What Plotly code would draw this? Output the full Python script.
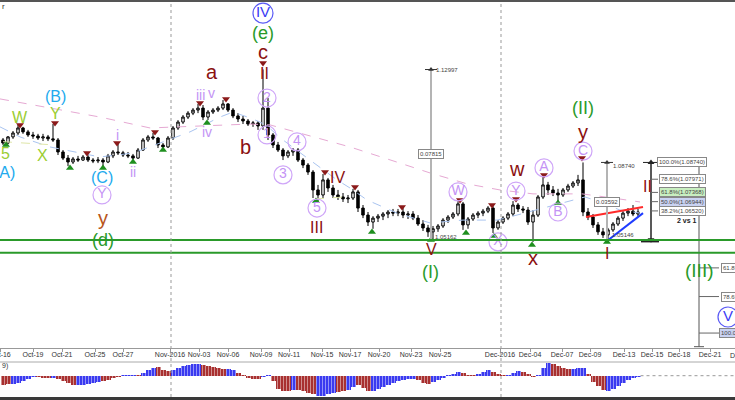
import plotly.graph_objects as go

FONT = "Liberation Sans, Arial, sans-serif"

# ---------------- price data (4-hour-ish bars, EUR/USD) ----------------
bars = list(range(128))
open_p = [
1.0977,1.0963,1.0991,1.1009,1.1032,1.1014,1.1000,1.0995,1.0986,1.0991,
1.0982,1.0977,1.0922,1.0894,1.0876,1.0890,1.0885,1.0899,1.0885,1.0881,
1.0885,1.0876,1.0904,1.0922,1.0918,1.0908,1.0904,1.0894,1.0931,1.0977,
1.0991,1.0986,1.0954,1.0945,1.0986,1.1032,1.1059,1.1082,1.1100,1.1114,
1.1123,1.1082,1.1105,1.1114,1.1123,1.1142,1.1114,1.1087,1.1073,1.1064,
1.1050,1.1055,1.1041,1.1123,1.1000,1.0954,1.0931,1.0904,1.0922,1.0931,
1.0885,1.0862,1.0830,1.0748,1.0725,1.0794,1.0757,1.0725,1.0716,1.0707,
1.0711,1.0739,1.0665,1.0633,1.0601,1.0619,1.0628,1.0638,1.0647,1.0642,
1.0647,1.0633,1.0638,1.0619,1.0592,1.0574,1.0556,1.0570,1.0583,1.0610,
1.0624,1.0638,1.0684,1.0588,1.0615,1.0633,1.0642,1.0651,1.0665,1.0574,
1.0601,1.0619,1.0638,1.0679,1.0661,1.0656,1.0601,1.0633,1.0716,1.0771,
1.0748,1.0734,1.0725,1.0748,1.0766,1.0780,1.0794,1.0647,1.0624,1.0588,
1.0556,1.0542,1.0565,1.0592,1.0619,1.0642,1.0651,1.0638]
high_p = [
1.0986,1.0995,1.1018,1.1046,1.1037,1.1023,1.1014,1.1005,1.1005,1.1000,
1.1050,1.0986,1.0931,1.0908,1.0899,1.0904,1.0908,1.0908,1.0894,1.0899,
1.0894,1.0913,1.0931,1.0963,1.0927,1.0922,1.0913,1.0940,1.0986,1.1000,
1.1009,1.0991,1.0963,1.0995,1.1041,1.1068,1.1091,1.1109,1.1123,1.1142,
1.1137,1.1114,1.1123,1.1132,1.1160,1.1146,1.1123,1.1100,1.1087,1.1073,
1.1064,1.1064,1.1300,1.1169,1.1009,1.0968,1.0940,1.0931,1.0940,1.0940,
1.0894,1.0871,1.0839,1.0771,1.0821,1.0803,1.0771,1.0748,1.0734,1.0725,
1.0753,1.0748,1.0679,1.0647,1.0628,1.0638,1.0647,1.0656,1.0661,1.0661,
1.0665,1.0651,1.0651,1.0633,1.0610,1.0588,1.0583,1.0592,1.0619,1.0633,
1.0647,1.0697,1.0693,1.0624,1.0642,1.0651,1.0661,1.0674,1.0674,1.0610,
1.0628,1.0647,1.0697,1.0688,1.0674,1.0670,1.0656,1.0725,1.0808,1.0785,
1.0766,1.0753,1.0757,1.0776,1.0789,1.0817,1.0874,1.0665,1.0638,1.0601,
1.0574,1.0574,1.0601,1.0628,1.0651,1.0665,1.0679,1.0661]
low_p = [
1.0954,1.0958,1.0982,1.1000,1.1005,1.0991,1.0982,1.0977,1.0972,1.0972,
1.0968,1.0908,1.0885,1.0857,1.0867,1.0876,1.0881,1.0876,1.0871,1.0871,
1.0857,1.0871,1.0894,1.0908,1.0899,1.0894,1.0881,1.0890,1.0927,1.0968,
1.0977,1.0940,1.0936,1.0940,1.0977,1.1023,1.1050,1.1073,1.1091,1.1100,
1.1068,1.1068,1.1096,1.1105,1.1114,1.1105,1.1077,1.1059,1.1050,1.1041,
1.1037,1.1023,1.1023,1.0977,1.0940,1.0922,1.0885,1.0894,1.0904,1.0876,
1.0848,1.0817,1.0711,1.0697,1.0711,1.0739,1.0711,1.0702,1.0693,1.0688,
1.0702,1.0647,1.0619,1.0583,1.0570,1.0601,1.0610,1.0619,1.0628,1.0628,
1.0619,1.0615,1.0610,1.0583,1.0560,1.0533,1.0516,1.0556,1.0574,1.0597,
1.0615,1.0628,1.0565,1.0570,1.0606,1.0619,1.0628,1.0642,1.0551,1.0565,
1.0592,1.0610,1.0628,1.0647,1.0642,1.0588,1.0510,1.0624,1.0707,1.0725,
1.0720,1.0697,1.0716,1.0739,1.0757,1.0766,1.0628,1.0610,1.0574,1.0542,
1.0528,1.0515,1.0556,1.0583,1.0606,1.0628,1.0628,1.0624]
close_p = [
1.0963,1.0991,1.1009,1.1032,1.1014,1.1000,1.0995,1.0986,1.0991,1.0982,
1.0977,1.0922,1.0894,1.0876,1.0890,1.0885,1.0899,1.0885,1.0881,1.0885,
1.0876,1.0904,1.0922,1.0918,1.0908,1.0904,1.0894,1.0931,1.0977,1.0991,
1.0986,1.0954,1.0945,1.0986,1.1032,1.1059,1.1082,1.1100,1.1114,1.1123,
1.1082,1.1105,1.1114,1.1123,1.1142,1.1114,1.1087,1.1073,1.1064,1.1050,
1.1055,1.1041,1.1123,1.1000,1.0954,1.0931,1.0904,1.0922,1.0931,1.0885,
1.0862,1.0830,1.0748,1.0725,1.0794,1.0757,1.0725,1.0716,1.0707,1.0711,
1.0739,1.0665,1.0633,1.0601,1.0619,1.0628,1.0638,1.0647,1.0642,1.0647,
1.0633,1.0638,1.0619,1.0592,1.0574,1.0556,1.0570,1.0583,1.0610,1.0624,
1.0638,1.0684,1.0588,1.0615,1.0633,1.0642,1.0651,1.0665,1.0574,1.0601,
1.0619,1.0638,1.0679,1.0661,1.0656,1.0601,1.0633,1.0716,1.0771,1.0748,
1.0734,1.0725,1.0748,1.0766,1.0780,1.0794,1.0647,1.0624,1.0588,1.0556,
1.0542,1.0565,1.0592,1.0619,1.0642,1.0651,1.0638,1.0647]

# ---------------- MACD histogram ----------------
macd_hist = [
-0.0009,-0.0008,-0.0008,-0.0007,-0.0005,-0.0003,-0.0001,-0.0001,-0.0002,-0.0002,
-0.0002,-0.0003,-0.0005,-0.0007,-0.0009,-0.0009,-0.0009,-0.0008,-0.0007,-0.0006,
-0.0005,-0.0004,-0.0002,-0.0001,0.0001,0.0001,0.0001,0.0001,0.0003,0.0006,
0.0008,0.0009,0.0006,0.0005,0.0006,0.0008,0.0010,0.0011,0.0012,0.0012,
0.0011,0.0010,0.0009,0.0008,0.0007,0.0007,0.0006,0.0003,0.0001,-0.0002,
-0.0003,-0.0003,-0.0001,0.0001,-0.0005,-0.0013,-0.0015,-0.0015,-0.0014,-0.0014,
-0.0015,-0.0017,-0.0018,-0.0020,-0.0020,-0.0018,-0.0017,-0.0016,-0.0015,-0.0014,
-0.0011,-0.0009,-0.0012,-0.0015,-0.0015,-0.0013,-0.0011,-0.0009,-0.0007,-0.0005,
-0.0004,-0.0003,-0.0003,-0.0004,-0.0007,-0.0008,-0.0006,-0.0004,-0.0002,0.00005,
0.0002,0.0004,0.0003,0.0001,0.00005,0.0002,0.0004,0.0006,0.0004,0.0002,
0.0001,0.0001,0.0003,0.0005,0.0004,0.0002,-0.0001,0.0001,0.0008,0.0013,
0.0012,0.0010,0.0008,0.0007,0.0007,0.0008,0.0008,0.0002,-0.0006,-0.0010,
-0.0014,-0.0015,-0.0013,-0.0010,-0.0007,-0.0004,-0.0002,-0.0001]
macd_phase = [
0,0,1,1,1,1,1,0,0,0,
1,0,0,0,0,1,1,1,1,1,
0,0,0,0,1,1,1,0,1,1,
1,0,0,0,1,1,1,1,1,1,
0,0,0,0,0,1,1,0,0,0,
0,0,1,1,0,0,0,0,1,0,
0,0,0,1,1,1,1,0,0,1,
1,0,0,0,1,1,1,1,1,1,
1,1,1,0,0,0,1,1,1,1,
1,1,0,0,0,1,1,1,0,0,
0,1,1,1,0,0,0,1,1,1,
0,0,0,0,1,1,1,0,0,0,
0,1,1,1,1,1,1,1]

# ---------------- moving averages ----------------
slow_ma_bar = [-0.6, 9.4, 19.4, 29.4, 39.4, 49.4, 53.4, 59.4, 69.4, 79.4, 85.4, 92.8, 99.4, 106, 115.8, 122, 127.4]
slow_ma_val = [1.1165, 1.1123, 1.1082, 1.1032, 1.1041, 1.1050, 1.1046, 1.1009, 1.0945, 1.0871, 1.0826, 1.0776, 1.0748, 1.0730, 1.0730, 1.0711, 1.0693]
fast_ma_bar = [-0.6, 3.4, 9.4, 19.4, 26, 32.8, 37.4, 43.4, 46, 49.4, 51.4, 52.8, 56, 61.4, 66.8, 69.4, 72.8,
               78.8, 85.4, 92, 98.8, 102.8, 108, 112.8, 116.4, 119.4, 123.4, 127.4]
fast_ma_val = [1.1037, 1.0991, 1.0945, 1.0899, 1.0917, 1.0977, 1.1014, 1.1082, 1.1105, 1.1078, 1.1059, 1.1041, 1.0977,
               1.0885, 1.0794, 1.0757, 1.0702, 1.0642, 1.0597, 1.0610, 1.0610, 1.0633, 1.0665, 1.0693, 1.0716, 1.0693,
               1.0656, 1.0642]

# faint channel lines
faint1_bar = [0.0, 10.4]; faint1_val = [1.0969, 1.0954]
faint2_bar = [62.4, 68.4]; faint2_val = [1.0707, 1.0716]

# ---------------- swing markers ----------------
swing_high_bar = [3.4, 10.4, 16.8, 22.8, 30.4, 39.4, 44.6, 52, 64.4, 70.4, 79.8, 91.4, 97.8, 102.6, 108.2, 115.8]
swing_high_val = [1.1046, 1.1055, 1.0917, 1.0963, 1.1014, 1.1146, 1.1165, 1.1329, 1.0830, 1.0762, 1.0670, 1.0702,
                  1.0679, 1.0707, 1.0817, 1.0894]
swing_low_bar = [0.6, 13.4, 20, 26, 32, 40.8, 62.6, 73.8, 85.6, 92.6, 98.2, 105.8, 111, 120.8]
swing_low_val = [1.0954, 1.0849, 1.0849, 1.0876, 1.0931, 1.1055, 1.0697, 1.0555, 1.0519, 1.0551, 1.0537, 1.0496,
                 1.0688, 1.0510]

# ---------------- trend lines / levels ----------------
resist_bar = [116.6, 128]; resist_val = [1.0624, 1.0670]
support_bar = [120.8, 128]; support_val = [1.0514, 1.0642]
green_levels = [1.0519, 1.0460]
month_start_bars = [33.6, 99.6]

# measuring tools
meas1_bar = 85.6; meas1_top = 1.12997; meas1_low = 1.05162; meas1_diff = "0.07815"
meas2_bar = 120.8; meas2_top = 1.08740; meas2_low = 1.05146; meas2_diff = "0.03592"
fib_bar = 129.6
fib_levels = [100.0, 78.6, 61.8, 50.0, 38.2]
fib_prices = [1.08740, 1.07971, 1.07368, 1.06944, 1.06520]
fib_bg = ["white", "white", "#c8efc0", "#c9d2f2", "white"]
proj_bar = 139.2
proj_levels = [61.8, 78.6, 100.0]
proj_prices = [1.03910, 1.02597, 1.00925]
proj_bg = ["white", "white", "#c9d2f2"]

# ---------------- x-axis ticks ----------------
tick_bars = [-0.55, 6, 11.8, 18.4, 24, 33.4, 39.2, 45, 51.6, 57.2, 63.8, 69.4, 75.2, 81.6, 87.4,
             99.4, 105.4, 111.8, 117.4, 124.2, 129.8, 135.2, 141.4]
tick_text = ["Oct-16", "Oct-19", "Oct-21", "Oct-25", "Oct-27", "Nov-2016", "Nov-03", "Nov-06", "Nov-09",
             "Nov-11", "Nov-15", "Nov-17", "Nov-20", "Nov-23", "Nov-25", "Dec-2016", "Dec-04", "Dec-07",
             "Dec-09", "Dec-13", "Dec-15", "Dec-18", "Dec-21"]

# ---------------- wave labels ----------------
DR = "#8b1111"; GR = "#2a9a2a"; VI = "#c493f5"; CY = "#22aaee"; YG = "#9acd32"; BRN = "#b8561b"; BL = "#3b3bf5"
styles = {
    "yg": (YG, 16), "cy": (CY, 16), "dr": (DR, 20), "dR": (DR, 16), "gr": (GR, 18),
    "grL": (GR, 19), "vi": (VI, 14), "br": (BRN, 20),
}
labels = [
    ("5", 0.4, 1.0917, "yg"), ("(A)", 0.3, 1.0826, "cy"), ("W", 3.4, 1.1082, "yg"), ("X", 7.8, 1.0908, "yg"),
    ("Y", 10.4, 1.1100, "yg"), ("(B)", 10.4, 1.1174, "cy"), ("(C)", 19.8, 1.0803, "cy"),
    ("y", 20, 1.0620, "br"), ("(d)", 20, 1.0519, "gr"), ("i", 22.8, 1.1000, "vi"), ("ii", 26, 1.0830, "vi"),
    ("iii", 39.4, 1.1183, "vi"), ("v", 41.6, 1.1192, "vi"), ("iv", 40.8, 1.1014, "vi"),
    ("a", 41.8, 1.1288, "dr"), ("b", 48.4, 1.0945, "dr"), ("(e)", 52, 1.1467, "gr"), ("c", 52, 1.1378, "dr"),
    ("II", 52.2, 1.1283, "dR"), ("IV", 66.8, 1.0807, "dR"), ("III", 62.6, 1.0578, "dR"),
    ("V", 85.6, 1.0473, "dR"), ("(I)", 85.4, 1.0372, "gr"), ("w", 102.8, 1.0842, "dr"),
    ("x", 106, 1.0436, "dr"), ("y", 116, 1.1014, "dr"), ("(II)", 116, 1.1123, "gr"),
    ("I", 120.8, 1.0459, "dR"), ("II", 128.8, 1.0762, "dR"), ("(III)", 139.2, 1.0377, "grL"),
]
circled = [
    ("Y", 19.8, 1.0725, "v"), ("IV", 52, 1.1558, "b"), ("2", 52.8, 1.1169, "v"), ("1", 52.8, 1.1000, "v"),
    ("3", 56, 1.0817, "v"), ("4", 58.8, 1.0968, "v"), ("5", 62.8, 1.0665, "v"), ("W", 91, 1.0739, "v"),
    ("X", 99, 1.0510, "v"), ("Y", 102.6, 1.0743, "v"), ("A", 108.2, 1.0849, "v"), ("B", 111, 1.0647, "v"),
    ("C", 116, 1.0926, "v"), ("V", 145, 1.0166, "b"),
]

fig = go.Figure()

# moving averages
fig.add_trace(go.Scatter(x=slow_ma_bar, y=slow_ma_val, mode="lines",
                         line=dict(color="#e6a9d3", width=1, dash="dash"), hoverinfo="skip"))
fig.add_trace(go.Scatter(x=fast_ma_bar, y=fast_ma_val, mode="lines",
                         line=dict(color="#a9c4f0", width=1, dash="dash"), hoverinfo="skip"))
for bx, vy in [(faint1_bar, faint1_val), (faint2_bar, faint2_val)]:
    fig.add_trace(go.Scatter(x=bx, y=vy, mode="lines", line=dict(color="#dfe6a8", width=1, dash="dash"),
                             hoverinfo="skip"))

# candles
fig.add_trace(go.Candlestick(x=bars, open=open_p, high=high_p, low=low_p, close=close_p,
                             increasing=dict(line=dict(color="black", width=1), fillcolor="white"),
                             decreasing=dict(line=dict(color="black", width=1), fillcolor="black"),
                             whiskerwidth=0, hoverinfo="skip"))

# trend lines
fig.add_trace(go.Scatter(x=resist_bar, y=resist_val, mode="lines", line=dict(color="#ff2a2a", width=2)))
fig.add_trace(go.Scatter(x=support_bar, y=support_val, mode="lines", line=dict(color="#1f3cff", width=2)))

# swing markers
fig.add_trace(go.Scatter(x=swing_high_bar, y=swing_high_val, mode="markers",
                         marker=dict(symbol="triangle-down", size=7, color="#8b1a1a")))
fig.add_trace(go.Scatter(x=swing_low_bar, y=swing_low_val, mode="markers",
                         marker=dict(symbol="triangle-up", size=7, color="#1f8f1f")))

# measuring tools (gray verticals)
for b, top, low in [(meas1_bar, meas1_top, meas1_low), (meas2_bar, meas2_top, meas2_low)]:
    fig.add_trace(go.Scatter(x=[b, b], y=[top, low], mode="lines", line=dict(color="#b4b4b4", width=2)))
    fig.add_trace(go.Scatter(x=[b - 1.2, b + 1.2], y=[top, top], mode="lines", line=dict(color="#333", width=1)))
    fig.add_trace(go.Scatter(x=[b], y=[top], mode="markers",
                             marker=dict(symbol="triangle-up", size=5, color="#333")))

# fib tool
fig.add_trace(go.Scatter(x=[fib_bar, fib_bar], y=[fib_prices[0], meas2_low], mode="lines",
                         line=dict(color="#222", width=1.5)))
fig.add_trace(go.Scatter(x=[128, 140.4], y=[fib_prices[0], fib_prices[0]], mode="lines",
                         line=dict(color="#222", width=1)))
fig.add_trace(go.Scatter(x=[127.6, 131.2], y=[meas2_low, meas2_low], mode="lines",
                         line=dict(color="#222", width=3)))
fig.add_trace(go.Scatter(x=[fib_bar, fib_bar], y=[fib_prices[0], meas2_low + 0.0005], mode="markers",
                         marker=dict(symbol=["triangle-up", "triangle-down"], size=6, color="#222")))
for p in fib_prices[1:]:
    fig.add_trace(go.Scatter(x=[fib_bar, 131], y=[p, p], mode="lines", line=dict(color="#666", width=1)))

# projection tool
fig.add_trace(go.Scatter(x=[proj_bar, proj_bar], y=[fib_prices[0], 1.0030], mode="lines",
                         line=dict(color="#555", width=1)))
fig.add_trace(go.Scatter(x=[proj_bar], y=[fib_prices[0]], mode="markers",
                         marker=dict(symbol="triangle-up", size=6, color="#222")))
fig.add_trace(go.Scatter(x=[proj_bar - 1, proj_bar + 1], y=[1.0030, 1.0030], mode="lines",
                         line=dict(color="#555", width=1)))
for p in proj_prices:
    fig.add_trace(go.Scatter(x=[proj_bar, 143.2], y=[p, p], mode="lines", line=dict(color="#666", width=1)))

# circled labels
for style, col, ring, tsize, msize in [("v", VI, "#cfa6f8", 14, 18), ("b", BL, "#5a5af5", 15, 20)]:
    pts = [c for c in circled if c[3] == style]
    fig.add_trace(go.Scatter(
        x=[c[1] for c in pts], y=[c[2] for c in pts], mode="markers+text",
        text=[c[0] for c in pts], textposition="middle center",
        textfont=dict(family=FONT, size=tsize, color=col),
        marker=dict(symbol="circle-open", size=msize, color=ring, line=dict(width=1.2, color=ring)),
        cliponaxis=False))

# MACD histogram
fig.add_trace(go.Bar(x=bars, y=macd_hist, xaxis="x2", yaxis="y2", width=1.0,
                     marker=dict(color=["#3a3af0" if p else "#a83030" for p in macd_phase],
                                 line=dict(width=0),
                                 pattern=dict(shape="|", fgcolor="white", size=3, solidity=0.3))))

for t, b, p, s in labels:
    col, size = styles[s]
    fig.add_annotation(x=b, y=p, text=t, showarrow=False, font=dict(family=FONT, size=size, color=col))

def small_label(text, b, p, xanchor="left", box=False, bg="white"):
    kw = dict(x=b, y=p, text=text, showarrow=False, xanchor=xanchor,
              font=dict(family=FONT, size=6, color="#444"))
    if box:
        kw.update(bordercolor="#888", borderwidth=1, borderpad=1, bgcolor=bg)
    fig.add_annotation(**kw)

small_label(f"{meas1_top:.5f}", meas1_bar + 0.6, meas1_top - 0.0002)
small_label(meas1_diff, meas1_bar, 1.0913, xanchor="center", box=True)
small_label(f"{meas1_low:.5f}", meas1_bar + 0.3, 1.0533)
small_label(f"{meas2_top:.5f}", meas2_bar + 0.8, 1.0858)
small_label(meas2_diff, meas2_bar, 1.0693, xanchor="center", box=True)
small_label(f"{meas2_low:.5f}", meas2_bar + 0.6, 1.0542)
for lv, p, bg in zip(fib_levels, fib_prices, fib_bg):
    small_label(f"{lv:.1f}%({p:.5f})", 130.8 if lv == 100.0 else 131.1, p, box=True, bg=bg)
for lv, p, bg in zip(proj_levels, proj_prices, proj_bg):
    small_label(f"{lv:.1f}%({p:.5f})", 143.2 if lv == 100.0 else 143.5, p, box=True, bg=bg)
fig.add_annotation(x=136.8, y=1.0606, text="<b>2 vs 1</b>", showarrow=False,
                   font=dict(family=FONT, size=7, color="#222"))

# edge texts
fig.add_annotation(xref="paper", yref="paper", x=1.0095, y=1 - 355 / 400, text="Dec-23", showarrow=False,
                   xanchor="center", yanchor="middle", font=dict(family=FONT, size=7, color="#333"))
fig.add_annotation(xref="paper", yref="paper", x=0.0, y=1 - 366 / 400, text="9)", showarrow=False,
                   xanchor="left", yanchor="middle", font=dict(family=FONT, size=7, color="#333"))
fig.add_annotation(xref="paper", yref="paper", x=0.0, y=1 - 7 / 400, text="r", showarrow=False,
                   xanchor="left", yanchor="middle", font=dict(family=FONT, size=8, color="#333"))

shapes = []
for lvl in green_levels:
    shapes.append(dict(type="line", xref="paper", yref="y", x0=0, x1=1, y0=lvl, y1=lvl,
                       line=dict(color="#2a9a2a", width=2)))
for mb in month_start_bars:
    shapes.append(dict(type="line", xref="x", yref="paper", x0=mb, x1=mb, y0=0.0075, y1=0.995,
                       line=dict(color="#999", width=1, dash="dot")))
shapes.append(dict(type="line", xref="x2", yref="y2", x0=127.5, x1=146.4, y0=0, y1=0,
                   line=dict(color="#999", width=1, dash="dot")))
shapes.append(dict(type="line", xref="paper", yref="paper", x0=0, x1=1, y0=0.095, y1=0.095,
                   line=dict(color="#aaa", width=1)))
shapes.append(dict(type="rect", xref="paper", yref="paper", x0=0, x1=1, y0=0.995, y1=1.0,
                   line=dict(width=0), fillcolor="#555"))
shapes.append(dict(type="rect", xref="paper", yref="paper", x0=0, x1=1, y0=0.0, y1=0.0075,
                   line=dict(width=0), fillcolor="#3a3a3a"))

fig.update_layout(
    width=735, height=400, margin=dict(l=0, r=0, t=0, b=0, autoexpand=False),
    paper_bgcolor="white", plot_bgcolor="white", showlegend=False,
    shapes=shapes, bargap=0,
    xaxis=dict(domain=[0, 1], range=[-0.6, 146.4], anchor="y", showgrid=False, zeroline=False,
               showline=True, linecolor="#999", linewidth=1, ticks="outside", ticklen=3, tickcolor="#999",
               ticklabelstandoff=-3, ticklabeloverflow="allow", automargin=False,
               tickvals=tick_bars, ticktext=tick_text, tickfont=dict(family=FONT, size=7, color="#333"),
               rangeslider=dict(visible=False), fixedrange=True),
    yaxis=dict(domain=[0.13, 0.995], range=[1.0024, 1.1609], visible=False, showgrid=False, fixedrange=True,
               automargin=False),
    xaxis2=dict(domain=[0, 1], anchor="y2", matches="x", visible=False, showgrid=False, automargin=False),
    yaxis2=dict(domain=[0.0075, 0.095], range=[-0.00213, 0.00137], visible=False, showgrid=False,
                fixedrange=True, automargin=False),
)

fig.write_html("out.html", post_script="document.body.style.margin='0px';",
               config={"displayModeBar": False, "staticPlot": True})
